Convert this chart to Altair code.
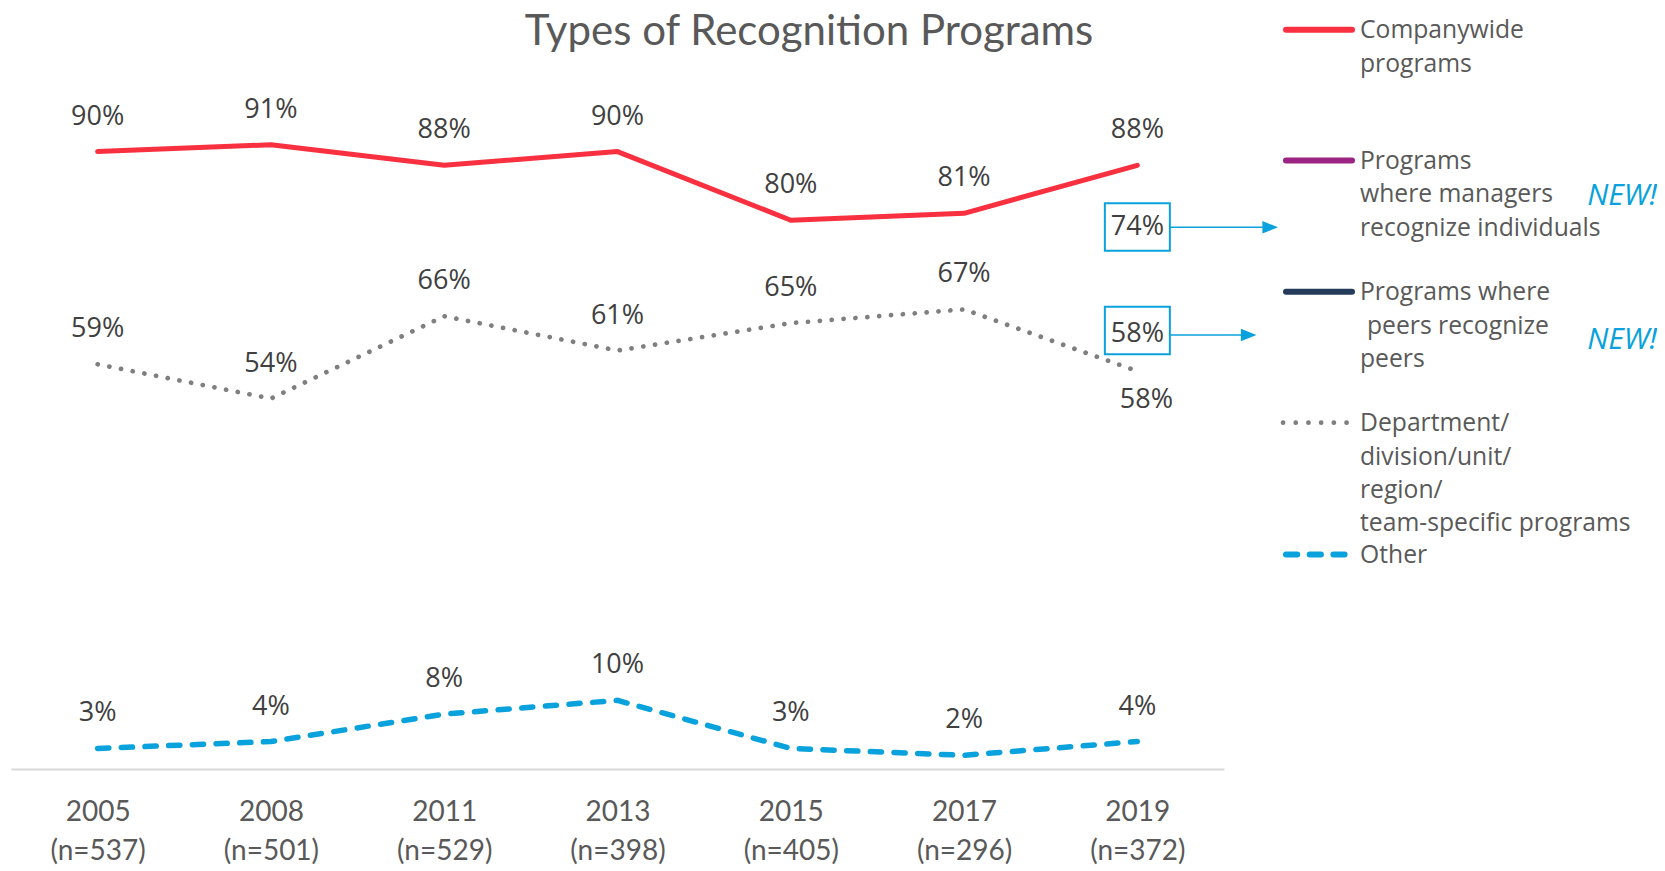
import altair as alt
import pandas as pd

# ---------------- data ----------------
years = ["2005", "2008", "2011", "2013", "2015", "2017", "2019"]
sample_sizes = [537, 501, 529, 398, 405, 296, 372]
companywide = [90, 91, 88, 90, 80, 81, 88]
department = [59, 54, 66, 61, 65, 67, 58]
other = [3, 4, 8, 10, 3, 2, 4]
managers_2019 = 74
peers_2019 = 58

series_names = ["Companywide", "Department", "Other"]
legend_entries = [
    ["Companywide", "programs"],
    ["Programs", "where managers", "recognize individuals"],
    ["Programs where", " peers recognize", "peers"],
    ["Department/", "division/unit/", "region/", "team-specific programs"],
    ["Other"],
]
title_text = "Types of Recognition Programs"

# ---------------- styles ----------------
RED = "#f9303f"
GRAY = "#7f7f7f"
BLUE = "#0aa2dc"
PURPLE = "#9b2482"
NAVY = "#243b5a"
TXT = "#404040"
TXT2 = "#595959"
LABEL_FONT = "Open Sans"

x_labels = [f"{y}|(n={n})" for y, n in zip(years, sample_sizes)]
rows = []
for name, vals in zip(series_names, [companywide, department, other]):
    for xl, v in zip(x_labels, vals):
        rows.append({"x": xl, "series": name, "value": v, "label": f"{v}%"})
df = pd.DataFrame(rows)
df["below"] = (df["series"] == "Department") & (df["x"] == x_labels[-1])

X = alt.X(
    "x:O",
    sort=x_labels,
    scale=alt.Scale(type="point", padding=0.5),
    axis=alt.Axis(
        title=None,
        labelExpr="split(datum.label, '|')",
        labelAngle=0,
        labelFont="Lato",
        labelFontSize=28,
        labelColor=TXT2,
        labelLineHeight=39.5,
        labelBaseline="top",
        labelPadding=29,
        ticks=False,
        tickSize=0,
        grid=False,
        domainColor="#d9d9d9",
        domainWidth=2,
    ),
)
Y = alt.Y("value:Q", scale=alt.Scale(domain=[0, 100]), axis=None)

base = alt.Chart(df)

line_styles = {
    "Companywide": dict(color=RED, strokeWidth=5, strokeCap="round", strokeJoin="round"),
    "Department": dict(color=GRAY, strokeWidth=4.7, strokeDash=[0.1, 11.8], strokeCap="round"),
    "Other": dict(color=BLUE, strokeWidth=5.5, strokeDash=[11.2, 12.5], strokeCap="round"),
}

layers = []
for name in series_names:
    layers.append(
        base.transform_filter(alt.datum.series == name)
        .mark_line(interpolate="linear", **line_styles[name])
        .encode(x=X, y=Y)
    )

labels_above = (
    base.transform_filter("!datum.below")
    .mark_text(font=LABEL_FONT, fontSize=27, color=TXT, dy=-27, baseline="alphabetic")
    .encode(x=X, y=Y, text="label:N")
)
labels_below = (
    base.transform_filter("datum.below")
    .mark_text(font=LABEL_FONT, fontSize=27, color=TXT, dy=37, dx=9, baseline="alphabetic")
    .encode(x=X, y=Y, text="label:N")
)
layers += [labels_above, labels_below]

# ---------------- annotation boxes for new 2019 items ----------------
ann = pd.DataFrame({"x": [x_labels[-1]]})
ann_base = alt.Chart(ann)
OX, OY = 11, 83  # plot origin on page


def box(cy, h):
    k = (h / 2) / 32.5
    path = f"M -1 -{k:.3f} L 1 -{k:.3f} L 1 {k:.3f} L -1 {k:.3f} Z"
    return ann_base.mark_point(
        shape=path, size=65 * 65, filled=False, stroke=BLUE, strokeWidth=2, opacity=1
    ).encode(x=X, y=alt.value(cy - OY))


def box_text(txt, baseline_y):
    return ann_base.mark_text(
        font=LABEL_FONT, fontSize=27, color=TXT, baseline="alphabetic"
    ).encode(x=X, y=alt.value(baseline_y - OY), text=alt.value(txt))


arrow_head = "M -1 -0.8 L 1 0 L -1 0.8 Z"


def arrow(y, x1, tip):
    cx = tip - 7.8
    r = ann_base.mark_rule(color=BLUE, strokeWidth=1.5).encode(
        x=alt.value(x1 - OX), x2=alt.value(cx - OX), y=alt.value(y - OY)
    )
    h = ann_base.mark_point(shape=arrow_head, size=243, filled=True, color=BLUE, opacity=1).encode(
        x=alt.value(cx - OX), y=alt.value(y - OY)
    )
    return [r, h]


layers += [
    box(227, 47.7),
    box_text(f"{managers_2019}%", 235.4),
    box(330.5, 47.6),
    box_text(f"{peers_2019}%", 341.6),
]
layers += arrow(227.3, 1169, 1278)
layers += arrow(335, 1169, 1256.5)

# ---------------- custom legend ----------------
legend_styles = [
    dict(color=RED, strokeWidth=6, strokeCap="round"),
    dict(color=PURPLE, strokeWidth=6, strokeCap="round"),
    dict(color=NAVY, strokeWidth=6, strokeCap="round"),
    dict(color=GRAY, strokeWidth=4.7, strokeDash=[0.1, 12.6], strokeCap="round"),
    dict(color=BLUE, strokeWidth=6, strokeDash=[11.2, 12.5], strokeCap="round"),
]
legend_x = [(1286, 1352), (1286, 1352), (1286, 1352), (1283, 1347.5), (1286, 1345)]
legend_sym_y = [29.7, 160.5, 291.8, 422.7, 554.5]
LINE_H = 33.4

for lines, sty, (xa, xb), sy in zip(legend_entries, legend_styles, legend_x, legend_sym_y):
    layers.append(
        ann_base.mark_rule(**sty).encode(
            x=alt.value(xa - OX), x2=alt.value(xb - OX), y=alt.value(sy - OY)
        )
    )
    for i, ln in enumerate(lines):
        indent = 7 if ln.startswith(" ") else 0
        layers.append(
            ann_base.mark_text(
                font=LABEL_FONT, fontSize=24.7, color=TXT2, align="left",
                baseline="alphabetic",
            ).encode(
                x=alt.value(1360 + indent - OX),
                y=alt.value(sy + 8.5 + i * LINE_H - OY),
                text=alt.value(ln.strip()),
            )
        )

for ny in [205, 349.3]:
    layers.append(
        ann_base.mark_text(
            font=LABEL_FONT, fontSize=30, fontStyle="italic", color=BLUE,
            align="right", baseline="alphabetic",
        ).encode(x=alt.value(1657 - OX), y=alt.value(ny - OY), text=alt.value("NEW!"))
    )

# ---------------- title ----------------
layers.append(
    ann_base.mark_text(
        font="Lato", fontSize=42, color=TXT2, align="center", baseline="alphabetic"
    ).encode(x=alt.value(809 - OX), y=alt.value(45 - OY), text=alt.value(title_text))
)

chart = (
    alt.layer(*layers)
    .properties(
        width=1213,
        height=686,
        autosize=alt.AutoSizeParams(type="none"),
        padding={"left": 3, "top": 75, "right": 433, "bottom": 100},
    )
    .configure_view(strokeWidth=0)
)

chart.save("out.html", embed_options={"renderer": "svg", "actions": False})
